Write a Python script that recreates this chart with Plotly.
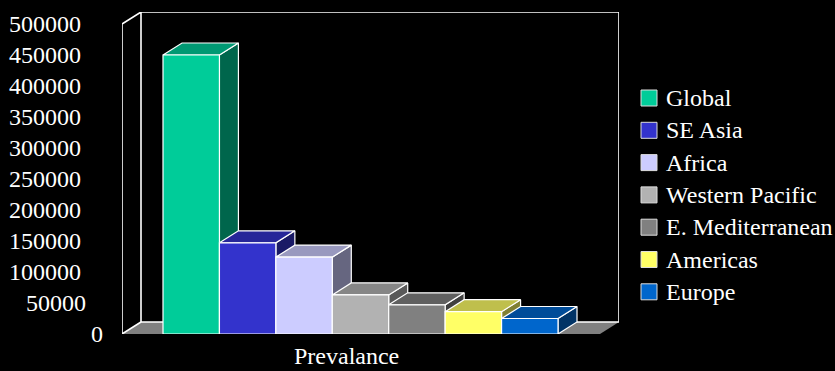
import plotly.graph_objects as go

# ---- data -------------------------------------------------------------
regions = ["Global", "SE Asia", "Africa", "Western Pacific",
           "E. Mediterranean", "Americas", "Europe"]
prevalence = [450000, 147000, 124000, 63000, 47000, 36000, 25000]
front_colors = ["#00CC99", "#3333CC", "#CCCCFF", "#B2B2B2",
                "#808080", "#FFFF66", "#0066CC"]
category_label = "Prevalance"
tick_values = [0, 50000, 100000, 150000, 200000, 250000,
               300000, 350000, 400000, 450000, 500000]

# ---- geometry / style -------------------------------------------------
W, H = 835, 371
PL, PR, PT, PB = 122, 619, 12, 334          # plot area in pixels
BAR_PX = 56.43                               # width of one bar in pixels
Y_PER_PX = 500000 / 310                      # value units per pixel
DEPTH_X_PX, DEPTH_Y_PX = 19, 12              # oblique depth offset

FONT = "Liberation Serif"
FS = 24

# legend key layout (pixels)
KEY_X0, KEY_SIZE, KEY_TEXT_X = 641, 16, 664
KEY_Y0, KEY_STEP = 98, 32.3

x_min = -41 / BAR_PX
x_max = x_min + (PR - PL) / BAR_PX
y_max = (PB - PT) * Y_PER_PX
dx = DEPTH_X_PX / BAR_PX
dy = DEPTH_Y_PX * Y_PER_PX
y_top = 500000


def px_x(p):
    return (p - PL) / (PR - PL)


def px_y(p):
    return (PB - p) / (PB - PT)


def shade(hex_color, f):
    h = hex_color.lstrip("#")
    r, g, b = (int(h[i:i + 2], 16) for i in (0, 2, 4))
    return "rgb(%d,%d,%d)" % (round(r * f), round(g * f), round(b * f))


def poly(xs, ys, fill, name, line_color="white", lw=1.2):
    return go.Scatter(x=xs + [xs[0]], y=ys + [ys[0]], mode="lines",
                      fill="toself", fillcolor=fill, name=name,
                      line=dict(color=line_color, width=lw),
                      hoverinfo="name", showlegend=False, cliponaxis=False)


fig = go.Figure()

# floor
fig.add_trace(go.Scatter(
    x=[x_min, x_max - dx, x_max, x_min + dx, x_min],
    y=[0, 0, dy, dy, 0], mode="lines", fill="toself",
    fillcolor="#808080", line=dict(width=0), hoverinfo="skip",
    showlegend=False, cliponaxis=False))

# left side wall and back wall outlines
fig.add_trace(go.Scatter(
    x=[x_min + dx, x_min, x_min, x_min + dx, x_min + dx, x_max, x_max, x_min + dx],
    y=[dy, 0, y_top, y_max, dy, dy, y_max, y_max],
    mode="lines", line=dict(color="white", width=1.6),
    hoverinfo="skip", showlegend=False, cliponaxis=False))

# 3D bars, left to right so each bar overlaps the side of the previous one
for i, (name, v, c) in enumerate(zip(regions, prevalence, front_colors)):
    L, R = i, i + 1
    fig.add_trace(poly([R, R + dx, R + dx, R], [0, dy, v + dy, v], shade(c, 0.5), name))
    fig.add_trace(poly([L, R, R + dx, L + dx], [v, v, v + dy, v + dy], shade(c, 0.75), name))
    fig.add_trace(poly([L, R, R, L], [0, 0, v, v], c, name))

annotations = []
shapes = []

# value labels on the vertical axis
label_right_px = {0: 105, 50000: 88}
for t in tick_values:
    rx = label_right_px.get(t, 83)
    annotations.append(dict(
        x=px_x(rx), xref="paper", y=t, yref="y",
        text=str(t), showarrow=False, xanchor="right", yanchor="middle",
        font=dict(family=FONT, size=FS, color="white")))

# category label
annotations.append(dict(
    x=px_x(346), xref="paper", y=px_y(H), yref="paper",
    text=category_label, showarrow=False, xanchor="center", yanchor="bottom",
    font=dict(family=FONT, size=FS, color="white")))

# legend: coloured keys with region names
for k, (name, c) in enumerate(zip(regions, front_colors)):
    cy = KEY_Y0 + k * KEY_STEP
    shapes.append(dict(
        type="rect", xref="paper", yref="paper",
        x0=px_x(KEY_X0), x1=px_x(KEY_X0 + KEY_SIZE),
        y0=px_y(cy + KEY_SIZE / 2), y1=px_y(cy - KEY_SIZE / 2),
        fillcolor=c, line=dict(color="#DDDDDD", width=1)))
    annotations.append(dict(
        x=px_x(KEY_TEXT_X), xref="paper", y=px_y(cy), yref="paper",
        text=name, showarrow=False, xanchor="left", yanchor="middle",
        font=dict(family=FONT, size=FS, color="white")))

fig.update_layout(
    width=W, height=H,
    margin=dict(l=PL, r=W - PR, t=PT, b=H - PB, pad=0, autoexpand=False),
    paper_bgcolor="black", plot_bgcolor="black",
    font=dict(family=FONT, size=FS, color="white"),
    xaxis=dict(range=[x_min, x_max], visible=False, fixedrange=True),
    yaxis=dict(range=[0, y_max], visible=False, fixedrange=True),
    showlegend=False,
    annotations=annotations,
    shapes=shapes,
)

fig.write_html("out.html")
